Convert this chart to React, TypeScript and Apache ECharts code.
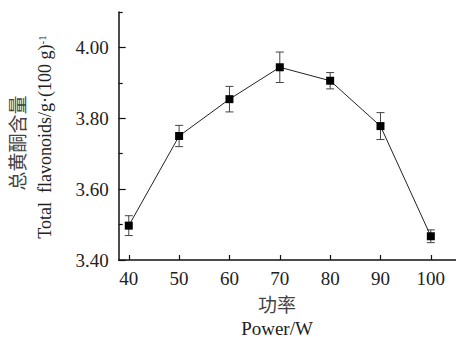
import React, { useEffect, useRef } from "react";
import * as echarts from "echarts";

const powers = [40, 50, 60, 70, 80, 90, 100];
const flavonoids = [3.497, 3.75, 3.854, 3.944, 3.906, 3.778, 3.467];
const errors = [0.028, 0.03, 0.036, 0.043, 0.023, 0.038, 0.018];
const xTickValues = [40, 50, 60, 70, 80, 90, 100];
const yMajorTicks = [3.4, 3.6, 3.8, 4.0];
const yMinorTicks = [3.5, 3.7, 3.9, 4.1];

const SERIF = "'Liberation Serif', 'Times New Roman', serif";
const CJK = "'Noto Sans CJK SC', sans-serif";

export default function App() {
  const ref = useRef<HTMLDivElement>(null);
  useEffect(() => {
    if (!ref.current) return;
    const chart = echarts.init(ref.current, undefined, { renderer: "svg" });
    const errData = powers.map((p, i) => [p, flavonoids[i], errors[i]]);
    const lineData = powers.map((p, i) => [p, flavonoids[i]]);
    chart.setOption({
      animation: false,
      backgroundColor: "#fff",
      grid: { left: 118.7, top: 12, right: 0, bottom: 77 },
      xAxis: {
        type: "value",
        min: 38,
        max: 105,
        axisLine: { lineStyle: { color: "#111", width: 1.5 } },
        axisTick: { inside: true, length: 5, customValues: xTickValues, lineStyle: { color: "#111", width: 1.2 } },
        axisLabel: { customValues: xTickValues, color: "#222", fontFamily: SERIF, fontSize: 19, margin: 9 },
        splitLine: { show: false },
      },
      yAxis: [
        {
          type: "value",
          min: 3.4,
          max: 4.1,
          axisLine: { show: true, lineStyle: { color: "#111", width: 1.5 } },
          axisTick: { show: true, inside: true, length: 7, customValues: yMajorTicks, lineStyle: { color: "#111", width: 1.2 } },
          axisLabel: {
            customValues: yMajorTicks,
            color: "#222",
            fontFamily: SERIF,
            fontSize: 19,
            margin: 10,
            formatter: (v: number) => v.toFixed(2),
          },
          splitLine: { show: false },
        },
        {
          type: "value",
          min: 3.4,
          max: 4.1,
          position: "left",
          axisLine: { show: false },
          axisTick: { show: true, inside: true, length: 4, customValues: yMinorTicks, lineStyle: { color: "#111", width: 1.2 } },
          axisLabel: { show: false },
          splitLine: { show: false },
        },
      ],
      graphic: [
        {
          type: "text",
          x: 16,
          y: 143,
          rotation: Math.PI / 2,
          style: {
            text: "总黄酮含量",
            font: `19px ${CJK}`,
            fill: "#444",
            align: "center",
            verticalAlign: "middle",
          },
        },
        {
          type: "text",
          x: 45,
          y: 137,
          rotation: Math.PI / 2,
          style: {
            text: "{a|Total  flavonoids/g·(100 g)}{s|-1}",
            align: "center",
            verticalAlign: "middle",
            rich: {
              a: { fontFamily: SERIF, fontSize: 18, fill: "#222", verticalAlign: "bottom" },
              s: { fontFamily: SERIF, fontSize: 11, fill: "#222", verticalAlign: "top" },
            },
          },
        },
        {
          type: "text",
          x: 277,
          y: 303,
          style: {
            text: "功率",
            font: `19px ${CJK}`,
            fill: "#444",
            align: "center",
            verticalAlign: "middle",
          },
        },
        {
          type: "text",
          x: 277,
          y: 328,
          style: {
            text: "Power/W",
            font: `19px ${SERIF}`,
            fill: "#222",
            align: "center",
            verticalAlign: "middle",
          },
        },
      ],
      series: [
        {
          type: "custom",
          data: errData,
          z: 2,
          renderItem: (params: any, api: any) => {
            const x = api.value(0);
            const y = api.value(1);
            const e = api.value(2);
            const top = api.coord([x, y + e]);
            const bot = api.coord([x, y - e]);
            const w = 4;
            const st = { stroke: "#444", lineWidth: 1 };
            return {
              type: "group",
              children: [
                { type: "line", shape: { x1: top[0], y1: top[1], x2: bot[0], y2: bot[1] }, style: st },
                { type: "line", shape: { x1: top[0] - w, y1: top[1], x2: top[0] + w, y2: top[1] }, style: st },
                { type: "line", shape: { x1: bot[0] - w, y1: bot[1], x2: bot[0] + w, y2: bot[1] }, style: st },
              ],
            };
          },
        },
        {
          type: "line",
          data: lineData,
          z: 3,
          symbol: "rect",
          symbolSize: 8,
          itemStyle: { color: "#000" },
          lineStyle: { color: "#222", width: 1 },
        },
      ],
    });
    return () => chart.dispose();
  }, []);
  return (
    <div
      ref={ref}
      style={{ position: "fixed", left: 0, top: 0, width: 456, height: 337 }}
    />
  );
}
